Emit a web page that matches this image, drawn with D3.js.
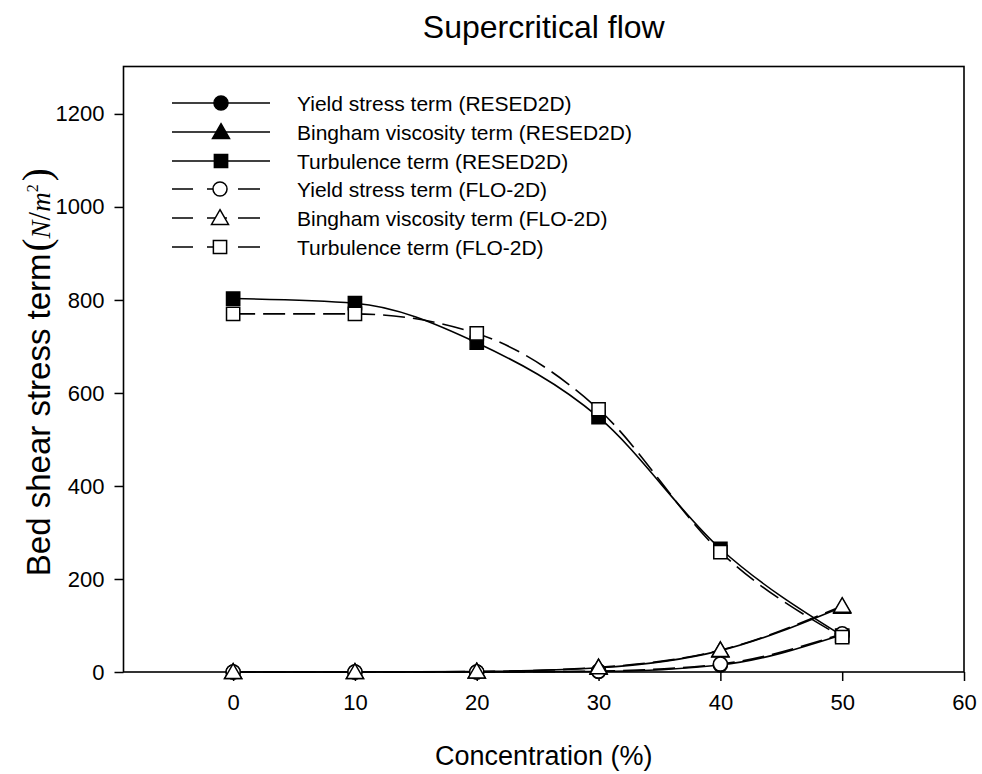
<!DOCTYPE html>
<html><head><meta charset="utf-8">
<script src="https://cdn.jsdelivr.net/npm/d3@7"></script>
<style>body{margin:0;background:#fff}svg{display:block}text{font-family:Arial,"Liberation Sans",sans-serif;fill:#000}</style>
</head><body><svg id="c" width="982" height="774"></svg>
<script>
const concentration = [0, 10, 20, 30, 40, 50];
const yieldRESED = [0, 0, 0, 1, 15, 80];
const binghamRESED = [0, 0, 1, 9, 46, 140];
const turbRESED = [803, 793, 708, 548, 265, 78];
const yieldFLO = [0, 0, 0, 2, 17, 82];
const binghamFLO = [0, 0, 1, 10, 47, 142];
const turbFLO = [770, 770, 728, 565, 258, 75];
const xTicks = [0, 10, 20, 30, 40, 50, 60];
const yTicks = [0, 200, 400, 600, 800, 1000, 1200];
const seriesNames = ["Yield stress term (RESED2D)", "Bingham viscosity term (RESED2D)", "Turbulence term (RESED2D)",
  "Yield stress term (FLO-2D)", "Bingham viscosity term (FLO-2D)", "Turbulence term (FLO-2D)"];

const series = [
  {name: seriesNames[0], values: yieldRESED, shape: "circle", filled: true, dashed: false},
  {name: seriesNames[1], values: binghamRESED, shape: "triangle", filled: true, dashed: false},
  {name: seriesNames[2], values: turbRESED, shape: "square", filled: true, dashed: false},
  {name: seriesNames[3], values: yieldFLO, shape: "circle", filled: false, dashed: true},
  {name: seriesNames[4], values: binghamFLO, shape: "triangle", filled: false, dashed: true},
  {name: seriesNames[5], values: turbFLO, shape: "square", filled: false, dashed: true}
];

const svg = d3.select("#c");
const L = 123.5, R = 964, T = 66.5, B = 672;
const x = d3.scaleLinear().domain([-9, 60]).range([L, R]);
const y = d3.scaleLinear().domain([0, 1302]).range([B, T]);

// axes
const xAxis = svg.append("g").attr("transform", `translate(0,${B})`)
  .call(d3.axisBottom(x).tickValues(xTicks).tickSize(9).tickPadding(13).tickFormat(d3.format("d")));
const yAxis = svg.append("g").attr("transform", `translate(${L},0)`)
  .call(d3.axisLeft(y).tickValues(yTicks).tickSize(9).tickPadding(10).tickFormat(d3.format("d")));
[xAxis, yAxis].forEach(a => {
  a.select(".domain").remove();
  a.selectAll("line").attr("stroke", "#000").attr("stroke-width", 1.5);
  a.selectAll("text").attr("font-size", 22).attr("font-family", "Arial, 'Liberation Sans', sans-serif").attr("fill", "#000");
});
svg.append("rect").attr("x", L).attr("y", T).attr("width", R - L).attr("height", B - T)
  .attr("fill", "none").attr("stroke", "#000").attr("stroke-width", 1.6);

// lines
const line = d3.line().x((d, i) => x(concentration[i])).y(d => y(d)).curve(d3.curveMonotoneX);
const symSize = {circle: 155, triangle: 125, square: 175};
function symPath(shape) {
  const t = shape === "circle" ? d3.symbolCircle : shape === "triangle" ? d3.symbolTriangle : d3.symbolSquare;
  return d3.symbol().type(t).size(symSize[shape])();
}
series.forEach(s => {
  svg.append("path").attr("d", line(s.values)).attr("fill", "none").attr("stroke", "#000")
    .attr("stroke-width", 1.6).attr("stroke-dasharray", s.dashed ? "22,8" : null);
});
series.forEach(s => {
  svg.append("g").selectAll("path").data(s.values).join("path")
    .attr("d", symPath(s.shape))
    .attr("transform", (d, i) => `translate(${x(concentration[i])},${y(d) + (s.shape === "triangle" ? 1.5 : 0)})`)
    .attr("fill", s.filled ? "#000" : "#fff").attr("stroke", "#000").attr("stroke-width", 1.5);
});

// legend
const lg = svg.append("g");
const rowY = [103, 132, 161, 189, 218, 247];
series.forEach((s, i) => {
  const ry = rowY[i];
  if (s.dashed) {
    lg.append("line").attr("x1", 172).attr("x2", 260).attr("y1", ry).attr("y2", ry)
      .attr("stroke", "#000").attr("stroke-width", 1.6).attr("stroke-dasharray", "21,14,20,11,22");
  } else {
    lg.append("line").attr("x1", 172).attr("x2", 270).attr("y1", ry).attr("y2", ry)
      .attr("stroke", "#000").attr("stroke-width", 1.6);
  }
  lg.append("path").attr("d", symPath(s.shape))
    .attr("transform", `translate(${s.dashed ? 220 : 221},${ry + (s.shape === "triangle" ? 1.5 : 0)})`)
    .attr("fill", s.filled ? "#000" : "#fff").attr("stroke", "#000").attr("stroke-width", 1.5);
  lg.append("text").attr("x", 297).attr("y", ry + 7.5).attr("font-size", 21).text(s.name);
});

// titles
svg.append("text").attr("x", (L + R) / 2).attr("y", 38).attr("text-anchor", "middle")
  .attr("font-size", 32).text("Supercritical flow");
svg.append("text").attr("x", (L + R) / 2).attr("y", 765).attr("text-anchor", "middle")
  .attr("font-size", 27).text("Concentration (%)");
const serif = "'Liberation Serif','DejaVu Serif',serif";
const yl = svg.append("text").attr("transform", `translate(50,${(T + B) / 2 + 3}) rotate(-90)`)
  .attr("text-anchor", "middle").attr("font-size", 33);
yl.append("tspan").text("Bed shear stress term");
yl.append("tspan").attr("font-family", serif).attr("font-size", 39).attr("dx", 2).text("(");
yl.append("tspan").attr("font-family", serif).attr("font-style", "italic").attr("font-size", 27).text("N");
yl.append("tspan").attr("font-family", serif).attr("font-size", 31).text("/");
yl.append("tspan").attr("font-family", serif).attr("font-style", "italic").attr("font-size", 27).text("m");
yl.append("tspan").attr("font-family", serif).attr("font-size", 16).attr("dy", -12).text("2");
yl.append("tspan").attr("font-family", serif).attr("font-size", 39).attr("dy", 12).attr("dx", 3).text(")");
</script></body></html>
